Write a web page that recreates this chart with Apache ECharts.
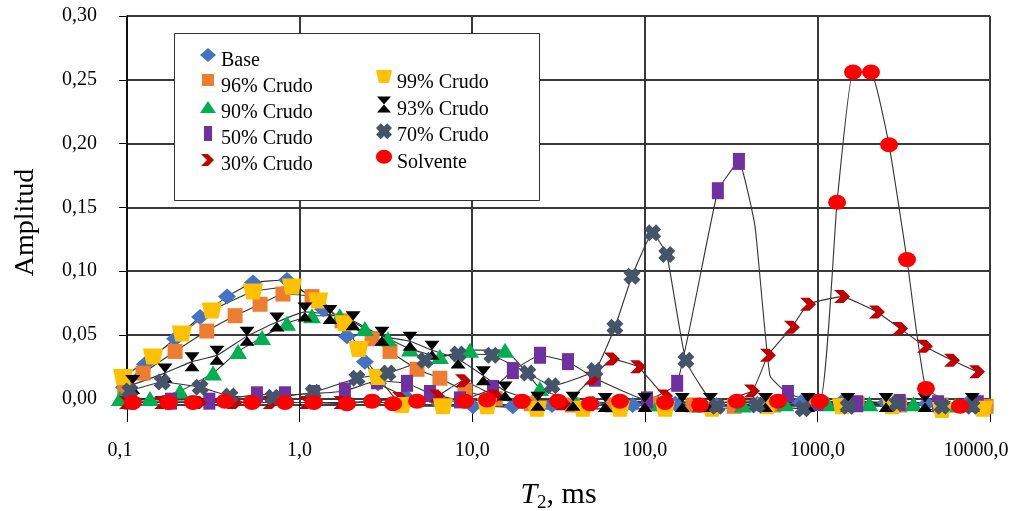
<!DOCTYPE html>
<html>
<head>
<meta charset="utf-8">
<script src="https://cdn.jsdelivr.net/npm/echarts@6/dist/echarts.min.js"></script>
<style>
html,body{margin:0;padding:0;background:#fff;}
#chart{width:1010px;height:511px;}
</style>
</head>
<body>
<div id="chart"></div>
<script>
// ---- data (T2 in ms, amplitude) ----
const seriesNames = ['Base','96% Crudo','90% Crudo','50% Crudo','30% Crudo','99% Crudo','93% Crudo','70% Crudo','Solvente'];
const xTicks = [0.1, 1, 10, 100, 1000, 10000];
const yTicks = [0.00, 0.05, 0.10, 0.15, 0.20, 0.25, 0.30];

const base = [[0.096,0.009],[0.127,0.027],[0.19,0.047],[0.265,0.064],[0.38,0.08],[0.537,0.091],[0.845,0.093],[1.37,0.07],[1.88,0.049],[2.39,0.029],[2.85,0.012],[4.08,0.002],[6.5,-0.004],[10.1,-0.006],[17.2,-0.006],[29,-0.005],[50,-0.004],[85,-0.005],[150,-0.004],[260,-0.005],[450,-0.004],[800,-0.003],[1400,-0.002],[2500,-0.003],[4300,-0.004],[7500,-0.003]];
const crudo96 = [[0.097,0.008],[0.124,0.02],[0.19,0.037],[0.29,0.053],[0.423,0.065],[0.59,0.074],[0.801,0.082],[1.18,0.08],[1.76,0.061],[2.63,0.047],[3.34,0.037],[4.79,0.023],[6.5,0.016],[9.08,0.006],[13.6,0.0],[22,-0.004],[38,-0.005],[65,-0.005],[110,-0.004],[190,-0.005],[330,-0.006],[560,-0.005],[950,-0.004],[1700,-0.004],[3000,-0.005],[5200,-0.005],[9500,-0.006]];
const crudo90 = [[0.091,0.0],[0.136,0.0],[0.203,0.006],[0.315,0.02],[0.44,0.037],[0.606,0.048],[0.845,0.059],[1.18,0.065],[1.71,0.065],[2.39,0.055],[3.25,0.047],[4.36,0.039],[6.5,0.033],[9.71,0.038],[15.5,0.038],[24.7,0.008],[40,-0.003],[70,-0.004],[120,-0.004],[210,-0.005],[370,-0.005],[650,-0.004],[1150,-0.004],[2000,-0.004],[3600,-0.004],[6300,-0.005]];
const crudo50 = [[0.104,-0.002],[0.18,-0.002],[0.3,-0.002],[0.566,0.003],[0.823,0.003],[1.21,0.004],[1.83,0.006],[2.81,0.014],[4.19,0.012],[5.69,0.004],[8.5,-0.001],[13.2,0.008],[17.2,0.022],[24.7,0.034],[35.9,0.029],[51.4,0.016],[103,-0.001],[154,0.012],[265,0.163],[351,0.186],[435,0.135],[531,0.018],[675,0.004],[1000,-0.003],[1700,-0.004],[3000,-0.003],[5000,-0.004],[8500,-0.004]];
const crudo50NoMarker = [435, 531];
const crudo30 = [[0.1,-0.003],[0.16,-0.003],[0.26,-0.003],[0.42,-0.003],[0.68,-0.003],[1.1,-0.003],[1.75,-0.003],[2.7,-0.002],[3.82,0.0],[6.25,0.002],[8.85,0.014],[13.6,0.002],[20.2,-0.002],[33.6,-0.004],[49.4,0.016],[64.5,0.031],[91.4,0.025],[131,0.002],[209,-0.005],[418,0.006],[517,0.034],[712,0.056],[883,0.074],[1390,0.08],[2213,0.068],[3013,0.055],[4200,0.041],[6025,0.03],[8410,0.021]];
const crudo99 = [[0.095,0.017],[0.1415,0.033],[0.208,0.051],[0.31,0.069],[0.537,0.084],[0.904,0.088],[1.28,0.077],[1.83,0.059],[2.2,0.039],[2.85,0.017],[3.92,-0.005],[6.77,-0.006],[12.2,-0.006],[23.7,-0.008],[43.8,-0.008],[71.8,-0.008],[131,-0.008],[245,-0.008],[510,-0.006],[1390,-0.006],[2706,-0.006],[5270,-0.009],[9100,-0.008]];
const crudo93 = [[0.108,0.011],[0.166,0.02],[0.238,0.029],[0.332,0.034],[0.496,0.049],[0.739,0.06],[1.074,0.068],[1.5,0.066],[2.04,0.061],[3.0,0.049],[4.36,0.045],[5.85,0.038],[8.28,0.031],[11.6,0.018],[15.5,0.006],[24,-0.002],[38.4,-0.002],[59,-0.003],[100,-0.003],[165,-0.003],[240,-0.003],[500,-0.003],[880,-0.003],[1500,-0.003],[2500,-0.003],[4200,-0.003],[7900,-0.003]];
const crudo70 = [[0.104,0.006],[0.16,0.013],[0.265,0.009],[0.395,0.002],[0.7,0.001],[1.2,0.005],[2.15,0.016],[3.25,0.02],[5.33,0.03],[8.28,0.035],[13.0,0.034],[21.0,0.02],[29.0,0.01],[51.4,0.022],[67.1,0.056],[84.3,0.096],[111,0.13],[134,0.113],[173,0.03],[262,-0.006],[447,-0.005],[826,-0.008],[1506,-0.006],[2891,-0.004],[5270,-0.006],[7870,-0.006]];
const solvente = [[0.108,-0.003],[0.175,-0.003],[0.241,-0.003],[0.37,-0.002],[0.53,-0.003],[0.823,-0.003],[1.21,-0.003],[1.88,-0.004],[2.63,-0.002],[3.48,-0.004],[4.79,-0.002],[9.08,-0.002],[12.2,-0.001],[19.4,-0.002],[31.4,-0.002],[48.1,-0.004],[71.8,-0.002],[131,-0.003],[209,-0.005],[342,-0.002],[591,-0.002],[1035,-0.002],[1300,0.154],[1608,0.256],[2045,0.256],[2600,0.199],[3305,0.109],[4256,0.008],[6700,-0.006]];

// ---- styling ----
const FONT = "'Liberation Serif', 'Times New Roman', serif";
// marker shapes
const SYM = {
  chevron: 'path://M0,0 L7,0 L12,6 L7,12 L0,12 L5,6 Z',
  trap: 'path://M0,0 L12,0 L10,10 L2,10 Z',
  hourglass: 'path://M0,0 L10,0 L5,6 Z M5,6 L10,12 L0,12 Z',
  cross: 'path://M0,3 L3,0 L5,2 L7,0 L10,3 L8,5 L10,7 L7,10 L5,8 L3,10 L0,7 L2,5 Z'
};
// legend icons: drawn in a 16x26 box, shape in the upper part so it sits above the text
const EXT = ' M0,0 L0,0 M16,26 L16,26';
const ICON = {
  diamond: 'path://M8,0 L16,7 L8,14 L0,7 Z' + EXT,
  rect: 'path://M2,0 L14,0 L14,12 L2,12 Z' + EXT,
  triangle: 'path://M8,1 L16,13 L0,13 Z' + EXT,
  tallRect: 'path://M4,0 L12,0 L12,15 L4,15 Z' + EXT,
  chevron: 'path://M1,2 L8,2 L14,8 L8,14 L1,14 L7,8 Z' + EXT,
  trap: 'path://M0,0 L16,0 L13,13 L3,13 Z' + EXT,
  hourglass: 'path://M1,0 L15,0 L8,8 Z M8,8 L15,16 L1,16 Z' + EXT,
  cross: 'path://M0,4.8 L4.8,0 L8,3.2 L11.2,0 L16,4.8 L12.8,8 L16,11.2 L11.2,16 L8,12.8 L4.8,16 L0,11.2 L3.2,8 Z' + EXT,
  ellipse: 'path://M0,7 C0,3.1 3.6,0 8,0 C12.4,0 16,3.1 16,7 C16,10.9 12.4,14 8,14 C3.6,14 0,10.9 0,7 Z' + EXT
};
const styles = {
  'Base':       {color:'#4472C4', symbol:'diamond', size:[18,16], icon:ICON.diamond},
  '96% Crudo':  {color:'#ED7D31', symbol:'rect', size:[15,15], icon:ICON.rect},
  '90% Crudo':  {color:'#00B050', symbol:'triangle', size:[18,15], icon:ICON.triangle},
  '50% Crudo':  {color:'#7030A0', symbol:'rect', size:[12,17], icon:ICON.tallRect},
  '30% Crudo':  {color:'#C00000', symbol:SYM.chevron, size:[16,13], icon:ICON.chevron},
  '99% Crudo':  {color:'#FFC000', symbol:SYM.trap, size:[20,16], icon:ICON.trap},
  '93% Crudo':  {color:'#000000', symbol:SYM.hourglass, size:[15,19], icon:ICON.hourglass},
  '70% Crudo':  {color:'#44546A', symbol:SYM.cross, size:[17,17], icon:ICON.cross},
  'Solvente':   {color:'#FF0000', symbol:'circle', size:[18,15], icon:ICON.ellipse}
};
const dataByName = {
  'Base': base, '96% Crudo': crudo96, '90% Crudo': crudo90, '50% Crudo': crudo50,
  '30% Crudo': crudo30, '99% Crudo': crudo99, '93% Crudo': crudo93, '70% Crudo': crudo70,
  'Solvente': solvente
};

function buildData(name) {
  return dataByName[name].map(function (p) {
    if (name === '50% Crudo' && crudo50NoMarker.indexOf(p[0]) >= 0) {
      return {value: p, symbol: 'none'};
    }
    return p;
  });
}

const series = seriesNames.map(function (name) {
  const s = styles[name];
  return {
    name: name,
    type: 'line',
    data: buildData(name),
    symbol: s.symbol,
    symbolSize: s.size,
    smooth: 0.12,
    clip: false,
    lineStyle: {color: '#333333', width: 1.1},
    itemStyle: {color: s.color, borderWidth: 0},
    emphasis: {disabled: true},
    z: 2
  };
});

function legendData(names) {
  return names.map(function (n) {
    return {name: n, icon: styles[n].icon, itemStyle: {color: styles[n].color, borderWidth: 0}};
  });
}
const legendText = {fontFamily: FONT, fontSize: 20, color: '#000'};

function fmtY(v) {
  if (v < -1e-9) return '';
  return v.toFixed(2).replace('.', ',');
}
function fmtX(v) {
  const s = v.toFixed(1).replace('.', ',');
  if (Math.abs(v - xTicks[xTicks.length - 1]) < 1e-6) return '{r|' + s + '}';
  if (Math.abs(v - xTicks[0]) < 1e-9) return '{l|' + s + '}';
  return s;
}

const chart = echarts.init(document.getElementById('chart'), null, {renderer: 'canvas'});
chart.setOption({
  animation: false,
  backgroundColor: '#ffffff',
  textStyle: {fontFamily: FONT, color: '#000'},
  grid: {left: 127, right: 20, top: 16, bottom: 106, containLabel: false, outerBoundsMode: 'none'},
  xAxis: {
    type: 'log',
    logBase: 10,
    min: xTicks[0],
    max: xTicks[xTicks.length - 1],
    name: '{i|T}{s|2}{n|, ms}',
    nameLocation: 'middle',
    nameGap: 73,
    nameTextStyle: {
      rich: {
        i: {fontFamily: FONT, fontSize: 30, fontStyle: 'italic', color: '#000'},
        s: {fontFamily: FONT, fontSize: 19, color: '#000', verticalAlign: 'bottom', padding: [16, 0, 0, 0]},
        n: {fontFamily: FONT, fontSize: 30, color: '#000'}
      }
    },
    axisLine: {show: true, onZero: false, lineStyle: {color: '#000', width: 1.5}},
    axisTick: {show: true, inside: false, length: 17, lineStyle: {color: '#000', width: 1}},
    axisLabel: {
      formatter: fmtX, fontFamily: FONT, fontSize: 20, color: '#000', margin: 36,
      rich: {
        r: {fontFamily: FONT, fontSize: 20, color: '#000', padding: [0, 28, 0, 0]},
        l: {fontFamily: FONT, fontSize: 20, color: '#000', padding: [0, 14, 0, 0]}
      }
    },
    splitLine: {show: true, lineStyle: {color: '#3a3a3a', width: 2}},
    minorTick: {show: false},
    minorSplitLine: {show: false}
  },
  yAxis: {
    type: 'value',
    min: -0.005,
    max: yTicks[yTicks.length - 1],
    splitNumber: 6,
    name: 'Amplitud',
    nameLocation: 'middle',
    nameGap: 87,
    nameTextStyle: {fontFamily: FONT, fontSize: 28, color: '#000', padding: [0, 24, 0, 0]},
    axisLine: {show: true, onZero: false, lineStyle: {color: '#000', width: 1.5}},
    axisTick: {show: true, inside: false, length: 8, lineStyle: {color: '#000', width: 1}},
    axisLabel: {formatter: fmtY, fontFamily: FONT, fontSize: 20, color: '#000', margin: 30, padding: [8, 0, 0, 0]},
    splitLine: {show: true, showMinLine: false, lineStyle: {color: '#3a3a3a', width: 2}}
  },
  legend: [
    {
      left: 200, top: 48, orient: 'vertical', itemGap: 0, itemWidth: 16, itemHeight: 26,
      padding: 0, selectedMode: false, z: 10,
      data: legendData(seriesNames.slice(0, 5)), textStyle: legendText
    },
    {
      left: 376, top: 70, orient: 'vertical', itemGap: 0.6, itemWidth: 16, itemHeight: 26,
      padding: 0, selectedMode: false, z: 10,
      data: legendData(seriesNames.slice(5)), textStyle: legendText
    }
  ],
  graphic: [{
    type: 'rect', left: 174, top: 33, z: 5,
    shape: {width: 365, height: 167},
    style: {fill: '#ffffff', stroke: '#333333', lineWidth: 1}
  }],
  series: series
});
</script>
</body>
</html>
